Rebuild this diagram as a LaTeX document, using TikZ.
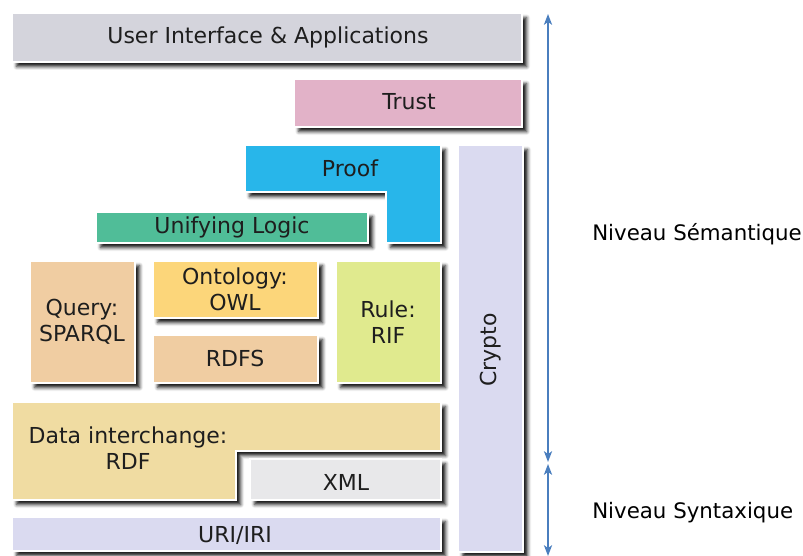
\documentclass[tikz,border=0pt]{standalone}
\usepackage{fontspec}
\setmainfont{DejaVu Sans}
\usetikzlibrary{shadows.blur,arrows.meta}

\definecolor{uigray}{RGB}{212,212,220}
\definecolor{trustpink}{RGB}{226,178,200}
\definecolor{proofblue}{RGB}{40,182,234}
\definecolor{logicgreen}{RGB}{80,189,152}
\definecolor{querytan}{RGB}{240,205,162}
\definecolor{owlyellow}{RGB}{252,214,122}
\definecolor{rulegreen}{RGB}{224,234,142}
\definecolor{rdfbeige}{RGB}{240,220,162}
\definecolor{xmlgray}{RGB}{232,232,234}
\definecolor{urililac}{RGB}{218,218,240}
\definecolor{arrowblue}{RGB}{74,126,190}
\definecolor{txt}{RGB}{30,30,30}

\tikzset{
  layer/.style={draw=white, line width=1pt,
    blur shadow={shadow xshift=3.5pt, shadow yshift=-3.5pt,
      shadow blur radius=2.5pt, shadow opacity=90}},
  lbl/.style={text=txt, font=\fontsize{16.5}{19.5}\selectfont, align=center, inner sep=0pt},
  side/.style={font=\fontsize{16}{19.5}\selectfont, anchor=west, inner sep=0pt},
  level/.style={<->, draw=arrowblue, line width=2pt}
}

\begin{document}
\begin{tikzpicture}[x=0.75pt,y=-0.75pt,>={Stealth[length=8pt,width=6pt,inset=2pt]}]
\useasboundingbox (0,0) rectangle (803,556);

% top layers
\draw[layer,fill=uigray] (12,13) rectangle (522,62);
\node[lbl] (ui) at (268,37) {User Interface \& Applications};
\draw[layer,fill=trustpink] (294,79) rectangle (522,127);
\node[lbl] (trust) at (409,102) {Trust};

% crypto column
\draw[layer,fill=urililac] (458,145) rectangle (523,552);
\node[lbl,rotate=90] (crypto) at (491,350) {Crypto};

% proof and logic
\draw[layer,fill=proofblue]
	(245,145) -- (441,145) -- (441,243) -- (386,243) -- (386,192) -- (245,192) -- cycle;
\node[lbl] (proof) at (350,168) {Proof};
\draw[layer,fill=logicgreen] (96,212) rectangle (368,243);
\node[lbl] (logic) at (232,227) {Unifying Logic};

% query, ontology, rules
\draw[layer,fill=querytan] (30,261) rectangle (135,383);
\node[lbl] (query) at (82,322) {Query:\\SPARQL};
\draw[layer,fill=owlyellow] (153,261) rectangle (318,318);
\node[lbl] (owl) at (235,289) {Ontology:\\OWL};
\draw[layer,fill=querytan] (153,335) rectangle (318,383);
\node[lbl] (rdfs) at (235,358) {RDFS};
\draw[layer,fill=rulegreen] (336,261) rectangle (441,383);
\node[lbl] (rif) at (388,322) {Rule:\\RIF};

% data interchange, xml, uri
\draw[layer,fill=rdfbeige]
	(12,402) -- (441,402) -- (441,451) -- (236,451) -- (236,500) -- (12,500) -- cycle;
\node[lbl] (rdf) at (128,448) {Data interchange:\\RDF};
\draw[layer,fill=xmlgray] (250,459) rectangle (441,500);
\node[lbl] (xml) at (346,482) {XML};
\draw[layer,fill=urililac] (12,517) rectangle (441,551);
\node[lbl] (uri) at (235,535) {URI/IRI};

% levels
\coordinate (semtop) at (548,14);
\coordinate (semend) at (548,462);
\coordinate (syntop) at (548,464);
\coordinate (synend) at (548,556);
\draw[level] (semtop) -- (semend);
\draw[level] (syntop) -- (synend);
\node[side] (sem) at (592,234) {Niveau Sémantique};
\node[side] (syn) at (592,513) {Niveau Syntaxique};

\end{tikzpicture}
\end{document}
